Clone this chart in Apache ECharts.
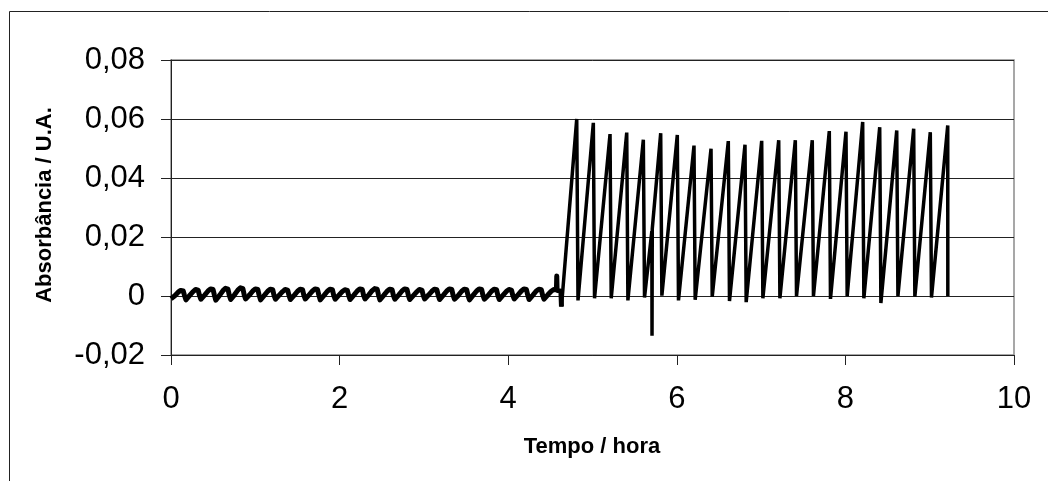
<!DOCTYPE html>
<html>
<head>
<meta charset="utf-8">
<script src="https://cdn.jsdelivr.net/npm/echarts@6/dist/echarts.min.js"></script>
<style>
  html, body { margin: 0; padding: 0; background: #fff; }
  #chart { width: 1048px; height: 481px; }
</style>
</head>
<body>
<div id="chart"></div>
<script>
// Axis ticks
const xTicks = [0, 2, 4, 6, 8, 10];
const yTicks = [-0.02, 0, 0.02, 0.04, 0.06, 0.08];

// Titles
const xTitle = 'Tempo / hora';
const yTitle = 'Absorbância / U.A.';

// Baseline drift before injections start: [hours, absorbance]
const baselineRun = [
  [0.000,-0.0009],[0.045,0.0001],[0.085,0.0013],[0.115,0.0019],[0.145,0.0017],[0.160,0.0002],
  [0.177,-0.0013],[0.222,0.0002],[0.262,0.0015],[0.292,0.0022],[0.322,0.0020],[0.337,0.0003],
  [0.354,-0.0011],[0.399,0.0003],[0.439,0.0017],[0.469,0.0024],[0.499,0.0022],[0.514,0.0004],
  [0.531,-0.0014],[0.576,0.0002],[0.616,0.0018],[0.646,0.0026],[0.676,0.0023],[0.691,0.0003],
  [0.708,-0.0012],[0.753,0.0004],[0.793,0.0020],[0.823,0.0028],[0.853,0.0025],[0.868,0.0004],
  [0.885,-0.0010],[0.930,0.0003],[0.970,0.0017],[1.000,0.0024],[1.030,0.0022],[1.045,0.0003],
  [1.062,-0.0013],[1.107,0.0002],[1.147,0.0016],[1.177,0.0023],[1.207,0.0021],[1.222,0.0002],
  [1.239,-0.0011],[1.284,0.0003],[1.324,0.0015],[1.354,0.0022],[1.384,0.0020],[1.399,0.0003],
  [1.416,-0.0012],[1.461,0.0002],[1.501,0.0016],[1.531,0.0023],[1.561,0.0021],[1.576,0.0002],
  [1.593,-0.0010],[1.638,0.0004],[1.678,0.0017],[1.708,0.0024],[1.738,0.0022],[1.753,0.0004],
  [1.770,-0.0013],[1.815,0.0002],[1.855,0.0016],[1.885,0.0023],[1.915,0.0021],[1.930,0.0002],
  [1.947,-0.0011],[1.992,0.0003],[2.032,0.0015],[2.062,0.0021],[2.092,0.0019],[2.107,0.0003],
  [2.124,-0.0012],[2.169,0.0003],[2.209,0.0017],[2.239,0.0024],[2.269,0.0022],[2.284,0.0003],
  [2.301,-0.0010],[2.346,0.0004],[2.386,0.0018],[2.416,0.0025],[2.446,0.0023],[2.461,0.0004],
  [2.478,-0.0013],[2.523,0.0002],[2.563,0.0016],[2.593,0.0023],[2.623,0.0021],[2.638,0.0002],
  [2.655,-0.0011],[2.700,0.0003],[2.740,0.0017],[2.770,0.0024],[2.800,0.0022],[2.815,0.0003],
  [2.832,-0.0012],[2.877,0.0002],[2.917,0.0015],[2.947,0.0022],[2.977,0.0020],[2.992,0.0002],
  [3.009,-0.0010],[3.054,0.0003],[3.094,0.0016],[3.124,0.0023],[3.154,0.0021],[3.169,0.0003],
  [3.186,-0.0012],[3.231,0.0003],[3.271,0.0017],[3.301,0.0024],[3.331,0.0022],[3.346,0.0003],
  [3.363,-0.0011],[3.408,0.0002],[3.448,0.0016],[3.478,0.0023],[3.508,0.0021],[3.523,0.0002],
  [3.540,-0.0013],[3.585,0.0003],[3.625,0.0017],[3.655,0.0024],[3.685,0.0022],[3.700,0.0003],
  [3.717,-0.0011],[3.762,0.0002],[3.802,0.0016],[3.832,0.0023],[3.862,0.0021],[3.877,0.0002],
  [3.894,-0.0012],[3.939,0.0003],[3.979,0.0016],[4.009,0.0022],[4.039,0.0020],[4.054,0.0003],
  [4.071,-0.0010],[4.116,0.0004],[4.156,0.0017],[4.186,0.0024],[4.216,0.0022],[4.231,0.0004],
  [4.248,-0.0012],[4.293,0.0003],[4.333,0.0017],[4.363,0.0023],[4.393,0.0021],[4.408,0.0003],
  [4.425,-0.0011],[4.470,0.0004],[4.510,0.0016],[4.540,0.0022],[4.560,0.0020],[4.572,0.0021],
  [4.576,0.0068],[4.580,0.0019],[4.600,0.0021],[4.625,0.0016],[4.632,-0.0036]
];

// Injection cycles: rise to each peak, fast drop back to the baseline
const injectionRun = [
  [4.632,-0.0036],
  [4.813,0.0600],[4.828,-0.0015],[4.842,-0.0012],
  [5.010,0.0587],[5.024,-0.0008],[5.038,-0.0006],
  [5.208,0.0549],[5.222,-0.0008],[5.236,-0.0006],
  [5.406,0.0554],[5.420,-0.0015],[5.434,-0.0012],
  [5.603,0.0530],[5.617,-0.0005],[5.631,-0.0003],
  [5.704,0.0220],[5.706,-0.0135],[5.709,0.0228],
  [5.809,0.0552],[5.823,0.0001],[5.837,0.0002],
  [6.006,0.0546],[6.020,-0.0015],[6.034,-0.0012],
  [6.204,0.0510],[6.218,-0.0013],[6.232,-0.0010],
  [6.406,0.0499],[6.420,-0.0003],[6.434,-0.0002],
  [6.611,0.0525],[6.625,-0.0017],[6.639,-0.0014],
  [6.809,0.0513],[6.823,-0.0021],[6.837,-0.0017],
  [7.007,0.0526],[7.021,-0.0008],[7.035,-0.0006],
  [7.209,0.0528],[7.223,-0.0008],[7.237,-0.0006],
  [7.406,0.0528],[7.420,0.0000],[7.434,0.0001],
  [7.607,0.0528],[7.621,0.0000],[7.635,0.0001],
  [7.809,0.0559],[7.823,-0.0010],[7.837,-0.0008],
  [8.007,0.0557],[8.021,0.0000],[8.035,0.0001],
  [8.205,0.0590],[8.219,-0.0008],[8.233,-0.0006],
  [8.407,0.0572],[8.421,-0.0024],[8.435,-0.0020],
  [8.609,0.0561],[8.623,0.0000],[8.637,0.0001],
  [8.810,0.0567],[8.824,-0.0002],[8.838,-0.0001],
  [9.007,0.0555],[9.021,-0.0005],[9.035,-0.0003],
  [9.214,0.0578],[9.215,0.0000]
];

const FONT = '"Liberation Sans", Arial, Helvetica, sans-serif';

function commaLabel(v) {
  if (Math.abs(v) < 1e-9) return '0';
  return v.toFixed(2).replace('.', ',');
}

const chart = echarts.init(document.getElementById('chart'), null, { renderer: 'canvas' });

chart.setOption({
  animation: false,
  backgroundColor: '#ffffff',
  grid: {
    left: 171, right: 34, top: 60, bottom: 126,
    show: true, borderColor: '#8a8a8a', borderWidth: 1.5, backgroundColor: 'transparent'
  },
  xAxis: {
    type: 'value',
    min: xTicks[0], max: xTicks[xTicks.length - 1], interval: 2,
    axisLine: { show: true, onZero: false, lineStyle: { color: '#222', width: 1 } },
    axisTick: { show: true, inside: false, length: 10, lineStyle: { color: '#222', width: 1 } },
    axisLabel: { color: '#000', fontSize: 31, fontFamily: FONT, margin: 29 },
    splitLine: { show: false }
  },
  yAxis: {
    type: 'value',
    min: yTicks[0], max: yTicks[yTicks.length - 1], interval: 0.02,
    axisLine: { show: true, lineStyle: { color: '#222', width: 1 } },
    axisTick: { show: true, inside: false, length: 10, lineStyle: { color: '#222', width: 1 } },
    axisLabel: { color: '#000', fontSize: 31, fontFamily: FONT, margin: 26, formatter: commaLabel },
    splitLine: { show: true, lineStyle: { color: '#222', width: 1 } }
  },
  graphic: [
    {
      type: 'rect', z: -1, silent: true,
      shape: { x: 9.5, y: 11.5, width: 1200, height: 600 },
      style: { fill: 'none', stroke: '#222', lineWidth: 1 }
    },
    {
      type: 'text', silent: true,
      x: 592, y: 447,
      style: { text: xTitle, font: 'bold 22px ' + FONT, fill: '#000', textAlign: 'center', textVerticalAlign: 'middle' }
    },
    {
      type: 'text', silent: true,
      x: 45, y: 205, rotation: Math.PI / 2,
      style: { text: yTitle, font: 'bold 22px ' + FONT, fill: '#000', textAlign: 'center', textVerticalAlign: 'middle' }
    }
  ],
  series: [
    {
      type: 'line', data: baselineRun, showSymbol: false, smooth: false,
      lineStyle: { color: '#000', width: 5, join: 'round' }, z: 3
    },
    {
      type: 'line', data: injectionRun, showSymbol: false, smooth: false,
      lineStyle: { color: '#000', width: 3.5, join: 'miter' }, z: 3
    }
  ]
});
</script>
</body>
</html>
